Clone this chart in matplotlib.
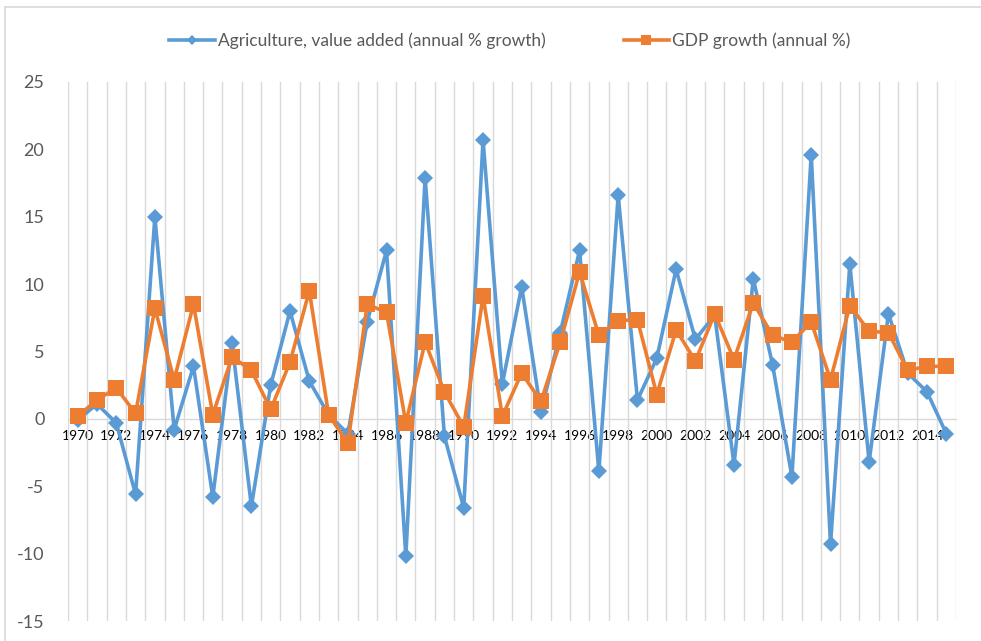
import matplotlib
matplotlib.use("Agg")
import matplotlib.pyplot as plt
from matplotlib.lines import Line2D
from matplotlib.ticker import FixedLocator, NullFormatter

plt.rcParams['font.family'] = ['Lato', 'DejaVu Sans']

years = list(range(1970, 2016))
agriculture = [-0.1, 1.1, -0.3, -5.6, 15.0, -0.8, 3.9, -5.8, 5.6, -6.5,
               2.5, 8.0, 2.8, 0.3, -1.1, 7.2, 12.5, -10.2, 17.9, -1.3,
               -6.6, 20.7, 2.6, 9.8, 0.5, 6.4, 12.5, -3.9, 16.6, 1.4,
               4.5, 11.1, 5.9, 7.7, -3.4, 10.4, 4.0, -4.3, 19.6, -9.3,
               11.5, -3.2, 7.8, 3.4, 2.0, -1.1]
gdp = [0.2, 1.4, 2.3, 0.4, 8.2, 2.9, 8.5, 0.3, 4.6, 3.6,
       0.7, 4.2, 9.5, 0.3, -1.8, 8.5, 7.9, -0.3, 5.7, 2.0,
       -0.6, 9.1, 0.2, 3.4, 1.3, 5.7, 10.9, 6.2, 7.3, 7.35,
       1.8, 6.6, 4.3, 7.8, 4.4, 8.6, 6.2, 5.7, 7.2, 2.9,
       8.4, 6.5, 6.4, 3.6, 3.9, 3.9]
y_ticks = [25, 20, 15, 10, 5, 0, -5, -10, -15]

BLUE = '#5B9BD5'
ORANGE = '#ED7D31'
GRID = '#D9D9D9'
TEXT = '#595959'

W, H = 981, 641
fig = plt.figure(figsize=(W / 100, H / 100), dpi=100)

# chart frame: top and left edges
fig.add_artist(Line2D([5 / W, 1.0], [1 - 7 / H, 1 - 7 / H], transform=fig.transFigure,
                      color=GRID, linewidth=1.2))
fig.add_artist(Line2D([5 / W, 5 / W], [0.0, 1 - 7 / H], transform=fig.transFigure,
                      color=GRID, linewidth=1.2))

ax = fig.add_axes([68 / W, 20 / H, 888 / W, 539 / H])
x = list(range(len(years)))

ax.plot(x, agriculture, color=BLUE, linewidth=2.6, marker='D', markersize=8.5,
        markeredgewidth=0, label='Agriculture, value added (annual % growth)', zorder=3)
ax.plot(x, gdp, color=ORANGE, linewidth=2.6, marker='s', markersize=11,
        markeredgewidth=0, label='GDP growth (annual %)', zorder=4)

ax.set_xlim(-0.5, len(years) - 0.5)
ax.set_ylim(-15, 25)

# category boundaries as vertical gridlines
ax.xaxis.set_minor_locator(FixedLocator([i - 0.5 for i in range(len(years) + 1)]))
ax.xaxis.set_minor_formatter(NullFormatter())
ax.grid(True, which='minor', axis='x', color=GRID, linewidth=1.0, zorder=0)
ax.grid(False, which='major')

label_pos = [i for i, yv in enumerate(years) if yv % 2 == 0]
ax.set_xticks(label_pos)
ax.set_xticklabels([str(years[i]) for i in label_pos], fontsize=12.5, color=TEXT,
                   family=['DejaVu Sans Mono', 'DejaVu Sans'])
ax.tick_params(axis='x', which='both', length=0, pad=8)
ax.set_yticks(y_ticks)
ax.set_yticklabels([str(v) for v in y_ticks], fontsize=13, color=TEXT)
ax.tick_params(axis='y', length=0, pad=17)

for side in ('top', 'right', 'left'):
    ax.spines[side].set_visible(False)
ax.spines['bottom'].set_position(('data', 0))
ax.spines['bottom'].set_color(GRID)
ax.spines['bottom'].set_linewidth(1.0)

leg = fig.legend(loc='center', bbox_to_anchor=(0.52, 1 - 41 / H), ncol=2,
                 frameon=False, fontsize=12.5, handlelength=2.6,
                 columnspacing=4.5, handletextpad=0.2, markerscale=0.6)
for t in leg.get_texts():
    t.set_color(TEXT)

fig.savefig('out.png', dpi=100)
